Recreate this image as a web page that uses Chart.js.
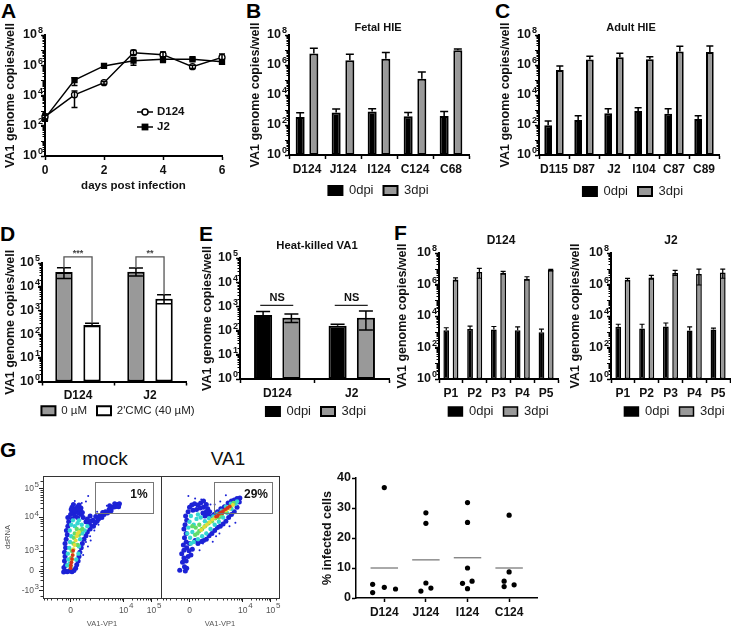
<!DOCTYPE html>
<html>
<head>
<meta charset="utf-8">
<script src="https://cdn.jsdelivr.net/npm/chart.js@4/dist/chart.umd.min.js"></script>
<style>
  html, body { margin: 0; padding: 0; background: #fff; overflow: hidden; }
  body { width: 731px; height: 632px; position: relative; font-family: 'Liberation Sans', Arial, sans-serif; }
  canvas { position: absolute; }
  .letter { position: absolute; font-weight: bold; font-size: 21px; line-height: 21px; color: #000; }
  .big { position: absolute; font-size: 19px; line-height: 22px; color: #111; transform: translateX(-50%); }
</style>
</head>
<body>
<div class="letter" style="left:1px;top:0px">A</div>
<div class="letter" style="left:246px;top:0px">B</div>
<div class="letter" style="left:495px;top:0px">C</div>
<div class="letter" style="left:0px;top:223px">D</div>
<div class="letter" style="left:199px;top:223px">E</div>
<div class="letter" style="left:394px;top:222px">F</div>
<div class="letter" style="left:0px;top:439px">G</div>
<div class="big" style="left:105px;top:448px">mock</div>
<div class="big" style="left:228px;top:448px">VA1</div>
<script>
'use strict';

/* ── shared axis labels ── */
const yTitle = 'VA1 genome copies/well';
const ticks8 = [1, 1e2, 1e4, 1e6, 1e8];
const ticks8Exps = ['0', '2', '4', '6', '8'];
const ticks5 = [1, 1e1, 1e2, 1e3, 1e4, 1e5];
const ticks5Exps = ['0', '1', '2', '3', '4', '5'];
const dpiLabels = ['0dpi', '3dpi'];

/* ── A ── */
const aDays = [0, 1, 2, 3, 4, 5, 6];
const aD124 = [400, 1.1e4, 7e4, 6.8e6, 5e6, 8e5, 3.3e6];
const aD124Hi = [600, 2e4, 8.5e4, 1e7, 7.5e6, 1e6, 5.5e6];
const aD124Lo = [280, 1.6e3, 5.5e4, 5e6, 3.5e6, 6e5, 1.6e6];
const aJ2 = [320, 1.05e5, 9e5, 2e6, 2.5e6, 2.5e6, 1.7e6];
const aJ2Hi = [480, 1.5e5, 1.1e6, 3.2e6, 3.6e6, 3e6, 2.4e6];
const aJ2Lo = [200, 4.5e4, 7e5, 1e6, 1.5e6, 2e6, 1.2e6];

/* ── B ── */
const bCats = ['D124', 'J124', 'I124', 'C124', 'C68'];
const b0 = [340, 690, 780, 380, 400];
const b0Hi = [660, 1150, 1200, 690, 780];
const b3 = [5.8e6, 2.1e6, 2.6e6, 1.2e5, 9.5e6];
const b3Hi = [1.3e7, 5.2e6, 6.8e6, 3.4e5, 1.17e7];

/* ── C ── */
const cCats = ['D115', 'D87', 'J2', 'I104', 'C87', 'C89'];
const c0 = [95, 215, 600, 850, 560, 250];
const c0Hi = [185, 420, 1200, 1400, 1200, 420];
const c3 = [4.6e5, 2.3e6, 3.3e6, 2.45e6, 7.8e6, 7.4e6];
const c3Hi = [8.5e5, 3.9e6, 6e6, 3.6e6, 1.8e7, 1.85e7];

/* ── D ── */
const dCats = ['D124', 'J2'];
const d0um = [4.2e4, 4.3e4];
const d0umHi = [6.3e4, 6.2e4];
const d0umLo = [2.2e4, 2.8e4];
const dCmc = [245, 3100];
const dCmcHi = [290, 4600];
const dCmcLo = [210, 1900];
const dLabels = ['0 µM', "2'CMC (40 µM)"];
const dBracketTop = [1.8e5, 1.8e5];
const dStars = ['***', '**'];

/* ── E ── */
const eCats = ['D124', 'J2'];
const e0 = [440, 158];
const e0Hi = [620, 185];
const e3 = [340, 340];
const e3Hi = [480, 650];
const e3Lo = [215, 107];
const eNsLevel = [1100, 1100];

/* ── F ── */
const fCats = ['P1', 'P2', 'P3', 'P4', 'P5'];
const fD0 = [1250, 1500, 1380, 1250, 930];
const fD0Hi = [1800, 2250, 2150, 2050, 1450];
const fD3 = [2.1e6, 6.2e6, 5.5e6, 2.35e6, 8.2e6];
const fD3Hi = [2.6e6, 1.05e7, 6.8e6, 3.1e6, 9e6];
const fD3Lo = [1.7e6, 2.5e6, 4.5e6, 1.9e6, 7.4e6];
const fJ0 = [2050, 1600, 2150, 1200, 1380];
const fJ0Hi = [3000, 3000, 3600, 2050, 1700];
const fJ3 = [2e6, 2.8e6, 5.3e6, 4.6e6, 5.8e6];
const fJ3Hi = [2.45e6, 3.8e6, 7.8e6, 9.4e6, 9.4e6];
const fJ3Lo = [1.7e6, 2.2e6, 3.8e6, 9.3e5, 2.5e6];

/* ── G flow plots ── */
const flowXTicks = [0, 1.9, 2.9];
const flowXLabels = ['0', '10', '10'];
const flowXExps = ['', '4', '5'];
const flowYTicks = [-0.66, 0, 0.69, 1.86, 2.86];
const flowYLabels = ['-10', '0', '10', '10', '10'];
const flowYExps = ['3', '', '3', '4', '5'];
const flowXMinor = [-.95, -.85, -.7, -.5, -.3, -.18, -.08, .08, .18, .3, .5, .7, 1.0, 1.2, 1.35, 1.5, 1.6, 1.7, 1.78, 1.85, 2.2, 2.38, 2.5, 2.6, 2.7, 2.78, 2.85, 3.1];
const flowYMinor = [-.85, -.5, -.3, -.18, -.08, .08, .18, .3, .5, .9, 1.2, 1.4, 1.55, 1.66, 1.74, 1.8, 2.16, 2.34, 2.46, 2.56, 2.64, 2.74, 2.8, 3.1];
const flowGateLabels = ['1%', '29%'];
const flowXName = 'VA1-VP1';
const flowYName = 'dsRNA';

const mockBlue = [[-.25,-.03],[-.2,0],[-.12,-.02],[-.05,0],[.05,-.02],[.12,.02],[-.24,.12],[-.18,.2],[.18,.1],[.22,.22],
  [-.22,.35],[-.2,.5],[-.22,.65],[.27,.35],[.3,.5],[.33,.65],[-.18,.8],[-.2,.95],[.38,.8],[.42,.95],
  [-.16,1.1],[-.12,1.25],[-.15,1.4],[-.1,1.55],[-.07,1.7],[-.1,1.85],[0,1.95],[.48,1.1],[.55,1.22],[.6,1.35],[.7,1.45],[.68,1.6],[.82,1.55],[.8,1.75],[.95,1.72],[.9,1.88],
  [.05,2.05],[.12,2],[.2,2.05],[.3,2],[.38,1.95],[.45,1.85],[.05,2.2],[.1,2.3],[.18,2.15],[.25,2.22],[.3,2.28],[.37,2.18],[.15,1.9],[.25,1.85],[.05,1.8],[.02,2.12],[.14,2.1],[.27,2.12],[.35,2.08],[.42,2.02],[.55,1.7],[.62,1.68],[.72,1.72],[.88,1.66],
  [1,1.8],[1.05,1.92],[1.12,1.85],[1.2,1.95],[1.25,2.05],[1.15,2.02],[1.32,2],[1.38,2.12],[1.45,2.08],[1.52,2.2],[1.6,2.22],[1.68,2.3],[1.75,2.32],[1.58,2.32],[1.4,2.25],[1.72,2.22],[.7,1.9],[.6,1.8]];
const mockBlueSparse = [[.63,2.59],[.55,2.4],[.72,1.05],[.62,.85],[.55,1],[.7,1.2],[.45,.55],[.85,1.4],[1.0,1.6],[.95,2.05],[.15,2.42],[.4,2.35],[1.3,2.25]];
const mockCyan = [[-.12,.2],[-.08,.4],[-.1,.6],[-.05,.8],[-.02,1],[.02,1.2],[-.03,1.4],[.02,1.6],[.08,1.75],[.28,.6],[.3,.85],[.34,1.1],[.42,1.3],[.5,1.4],[.6,1.55],[.15,1.55],[.25,1.65],[.3,1.75],[.4,1.6],[-.04,.25],[.2,.4]];
const mockGreen = [[0,.15],[.02,.45],[.04,.7],[.1,.95],[.12,1.15],[.15,1.3],[.25,.9],[.3,1.25],[.35,1.4],[.22,1.45],[.42,1.45]];
const mockYellow = [[.08,.55],[.1,.75],[.14,.9],[.18,1.05],[.22,1.2],[.25,1.3],[.3,1.35],[.05,.4]];
const mockRed = [[0,.1],[.01,.2],[.03,.3],[.05,.42],[.07,.55],[.09,.7]];

const va1Blue = [[-.35,.03],[-.15,0],[-.1,.1],[-.18,.15],[-.25,.3],[-.2,.45],[-.12,.35],[-.05,.5],[-.28,.6],[-.2,.72],[-.1,.8],[-.02,.7],[.05,.55],[.1,.75],[-.22,.9],[-.12,1],[0,.95],
  [-.18,1.15],[-.12,1.3],[-.2,1.45],[-.16,1.6],[-.1,1.75],[-.14,1.9],[-.05,2.05],[0,2.2],[.08,2.28],[.18,2.32],[.3,2.28],[.4,2.35],[.5,2.42],[.12,2.1],[.25,2.12],[.38,2.18],[.5,2.2],[.6,2.3],[.65,2.15],[.6,2.05],[.48,2],[.55,1.9],[.65,1.95],[.72,2.05],
  [.2,1.05],[.3,.95],[.42,1.02],[.5,1.05],[.6,1.1],[.7,1.22],[.8,1.3],[.9,1.4],[1,1.5],[1.1,1.55],[1.2,1.62],[1.3,1.72],[1.4,1.85],[1.5,1.95],[1.6,2.05],[1.7,2.2],[1.78,2.38],[1.8,2.52],[1.7,2.5],[1.6,2.45],[1.5,2.42],[1.38,2.35],[1.25,2.22],[1.12,2.15],[1,2.05],[.88,1.95],[.78,1.88]];
const va1BlueSparse = [[-.04,2.59],[.42,2.47],[1.3,2.62],[1.64,1.67],[.83,1.01],[.48,.95],[.36,.72],[.6,1.32],[1.07,1.3],[1.43,1.55],[.2,2.5],[.9,2.3],[1.1,2.4],[.75,2.3],[.95,1.2]];
const va1Cyan = [[-.08,1.3],[-.04,1.5],[0,1.7],[.05,1.9],[.02,1.15],[.1,1.35],[.15,1.6],[.25,1.8],[.3,1.95],[.4,1.85],[.05,.95],[.15,1],[.3,1.1],[.45,1.2],[.6,1.3],[.75,1.45],[.9,1.6],[1.05,1.7],[1.2,1.85],[1.35,2],[1.5,2.15],[1.65,2.32],[1.7,2.4],[.55,1.72],[.7,1.82],[.85,1.88],[1,1.98],[1.15,2.08],[1.3,2.22],[1.48,2.32]];
const va1Green = [[.2,1.25],[.28,1.3],[.35,1.38],[.45,1.45],[.55,1.55],[.68,1.65],[.8,1.72],[.92,1.82],[1.05,1.85],[.22,1.5],[.1,1.55],[.35,1.6],[1.15,1.95],[1.3,2.05],[1.45,2.2],[1.58,2.35]];
const va1Yellow = [[.42,1.42],[.52,1.52],[.62,1.6],[.72,1.68],[.82,1.78],[.92,1.85],[1.02,1.92],[1.55,2.28],[1.42,2.16],[1.3,2.1]];
const va1Red = [[.95,1.88],[1.05,1.97],[1.12,2.02],[1.2,2.07],[1.28,2.13],[1.36,2.18],[1.44,2.23],[1,1.9],[1.18,2]];

/* ── G dot plot ── */
const gCats = ['D124', 'J124', 'I124', 'C124'];
const gTitle = '% infected cells';
const gPoints = [[0,36.8],[-.28,4.55],[0,3.55],[.27,3],[-.28,1.8],
  [1,28.4],[1,24.9],[1,5],[1.12,3.3],[.88,2.3],
  [2,31.8],[2,25.2],[2,10],[2.11,5.6],[1.88,4.9],[2,3.1],
  [3,27.6],[3,8.7],[2.88,5.6],[3.12,4.4],[2.88,3.8]];
const gMeans = [10, 12.7, 13.4, 10];

/* ══════════════ PLUGINS ══════════════ */
Chart.defaults.font.family = "'Liberation Sans', Arial, sans-serif";
Chart.defaults.color = '#111';

const errorBars = {
  id: 'errorBars',
  afterDatasetsDraw(chart) {
    const { ctx } = chart, y = chart.scales.y;
    chart.data.datasets.forEach((ds, d) => {
      if (!ds.errHi) return;
      const els = chart.getDatasetMeta(d).data, cap = ds.capHalf || 4;
      ctx.save();
      ctx.strokeStyle = '#000';
      ctx.lineWidth = ds.errWidth || 1.5;
      els.forEach((el, i) => {
        const top = y.getPixelForValue(ds.errHi[i]);
        const lo = ds.errLo ? ds.errLo[i] : null;
        const bot = lo ? y.getPixelForValue(lo) : el.y;
        ctx.beginPath();
        ctx.moveTo(el.x, bot); ctx.lineTo(el.x, top);
        ctx.moveTo(el.x - cap, top); ctx.lineTo(el.x + cap, top);
        if (lo) { ctx.moveTo(el.x - cap, bot); ctx.lineTo(el.x + cap, bot); }
        ctx.stroke();
      });
      ctx.restore();
    });
  }
};

// short unlabelled ticks, log decades or an explicit list
const minorTicks = {
  id: 'minorTicks',
  afterDraw(chart, args, opts) {
    const { ctx } = chart, y = chart.scales.y, x = chart.scales.x;
    ctx.save();
    ctx.strokeStyle = opts.color || '#000';
    ctx.lineWidth = 1;
    if (y && y.type === 'logarithmic') {
      for (let p = 0; p < Math.log10(y.max) - 1e-6; p++) {
        for (let m = 1; m < 10; m++) {
          const py = Math.round(y.getPixelForValue(m * 10 ** p)) + 0.5;
          ctx.beginPath();
          ctx.moveTo(chart.chartArea.left, py);
          ctx.lineTo(chart.chartArea.left - (m === 1 ? 4 : 2.5), py);
          ctx.stroke();
        }
      }
    }
    (opts.xList || []).forEach(v => {
      const px = Math.round(x.getPixelForValue(v)) + 0.5;
      ctx.beginPath();
      ctx.moveTo(px, chart.chartArea.bottom);
      ctx.lineTo(px, chart.chartArea.bottom + 2.5);
      ctx.stroke();
    });
    (opts.yList || []).forEach(v => {
      const py = Math.round(y.getPixelForValue(v)) + 0.5;
      ctx.beginPath();
      ctx.moveTo(chart.chartArea.left, py);
      ctx.lineTo(chart.chartArea.left - 2.5, py);
      ctx.stroke();
    });
    ctx.restore();
  }
};

// exponents of the "10" tick labels, raised beside the label
const tickExps = {
  id: 'tickExps',
  afterDraw(chart) {
    const { ctx } = chart;
    Object.values(chart.scales).forEach(s => {
      if (!s.expList) return;
      const st = s.expStyle;
      ctx.save();
      ctx.font = st.font;
      ctx.fillStyle = st.color;
      ctx.textAlign = 'left';
      ctx.textBaseline = 'middle';
      s.expList.forEach((e, i) => {
        if (!e) return;
        const p = s.getPixelForValue(s.expValues[i]);
        if (s.isHorizontal()) ctx.fillText(e, p + st.dx, s.top + st.dy);
        else ctx.fillText(e, s.right + st.dx, p + st.dy);
      });
      ctx.restore();
    });
  }
};

// free text and strokes; hook gets page coordinates translated to the canvas
const notes = {
  id: 'notes',
  afterDraw(chart, args, opts) {
    if (!opts.draw) return;
    const { ctx } = chart;
    ctx.save();
    ctx.translate(-parseFloat(chart.canvas.style.left), -parseFloat(chart.canvas.style.top));
    opts.draw(ctx, chart);
    ctx.restore();
  }
};

const legendShift = {
  id: 'legendShift',
  afterLayout(chart, args, opts) {
    if (!chart.legend || opts.cx === undefined) return;
    const l = chart.legend;
    const dx = opts.cx - parseFloat(chart.canvas.style.left) - (l.left + l.right) / 2;
    const dy = opts.cy - parseFloat(chart.canvas.style.top) - (l.top + LEGEND_H / 2);
    l.left += dx; l.right += dx;
    l.top += dy; l.bottom += dy;
  }
};

Chart.register(errorBars, minorTicks, tickExps, notes, legendShift);

/* ══════════════ HELPERS ══════════════ */
const LEGEND_H = 32;
const X_LABEL_H = 30;

function text(ctx, str, x, y, font, color, align) {
  ctx.font = font;
  ctx.fillStyle = color || '#111';
  ctx.textAlign = align || 'center';
  ctx.textBaseline = 'middle';
  ctx.fillText(str, x, y);
}

function panel(p) {
  const { area, titleX, legendCx, legendCy, xH } = p;
  const left = titleX - 7;
  const top = area.t - 32;
  const right = area.r + 14;
  const xHeight = legendCy ? X_LABEL_H : xH;
  const bottom = area.b + xHeight + (legendCy ? LEGEND_H : 0);
  const c = document.createElement('canvas');
  c.width = right - left; c.height = bottom - top;
  c.style.left = left + 'px'; c.style.top = top + 'px';
  c.style.width = c.width + 'px'; c.style.height = c.height + 'px';
  document.body.appendChild(c);

  const cfg = p.config;
  cfg.options = cfg.options || {};
  Object.assign(cfg.options, {
    responsive: false, animation: false, devicePixelRatio: 1,
    events: [],
    layout: { autoPadding: false, padding: { top: area.t - top, right: right - area.r, left: 0, bottom: 0 } }
  });
  cfg.options.scales.x.afterFit = s => { s.height = xHeight; };
  cfg.options.scales.y.afterFit = s => { s.width = area.l - left; };
  cfg.options.plugins = Object.assign({
    legendShift: { cx: legendCx, cy: legendCy },
    tooltip: { enabled: false }
  }, cfg.options.plugins || {});
  return new Chart(c, cfg);
}

function logY(list, exps) {
  return {
    type: 'logarithmic', min: list[0], max: list[list.length - 1],
    afterBuildTicks: s => {
      s.ticks = list.map(v => ({ value: v }));
      s.expValues = list; s.expList = exps;
      s.expStyle = { font: 'bold 9px "Liberation Sans"', color: '#111', dx: -7, dy: -4 };
    },
    title: { display: true, text: yTitle, font: { size: 12.5, weight: 'bold' }, color: '#111', padding: 0 },
    ticks: { callback: () => '10', font: { size: 12.5, weight: 'bold' }, color: '#111', padding: 4, autoSkip: false, maxRotation: 0 },
    grid: { drawOnChartArea: false, tickLength: 4, tickColor: '#000', tickWidth: 1.5 },
    border: { color: '#000', width: 2 }
  };
}

function catX() {
  return {
    type: 'category',
    ticks: { font: { size: 12, weight: 'bold' }, color: '#111', padding: 3, autoSkip: false, maxRotation: 0 },
    grid: { drawOnChartArea: false, tickLength: 4, tickColor: '#000', tickWidth: 1.5 },
    border: { color: '#000', width: 2 }
  };
}

function barSet(label, values, hi, lo, fill, opt) {
  const o = opt;
  return {
    label, data: values, errHi: hi, errLo: lo,
    backgroundColor: fill, borderColor: '#000', borderWidth: o.bw, borderSkipped: false,
    barPercentage: o.bar, categoryPercentage: o.cat, capHalf: o.cap, errWidth: o.ew
  };
}

function legendOpt(size) {
  return {
    display: true, position: 'bottom',
    labels: { boxWidth: 14, boxHeight: 9, padding: 10, font: { size: size || 13 }, color: '#222' }
  };
}

/* ══════════════ A ══════════════ */
panel({
  area: { l: 45, t: 35, r: 222, b: 156 }, titleX: 10, xH: 41,
  config: {
    type: 'line',
    data: {
      labels: aDays,
      datasets: [
        { label: 'D124', data: aD124, errHi: aD124Hi, errLo: aD124Lo, capHalf: 3, borderColor: '#000', borderWidth: 1.5,
          pointStyle: 'circle', pointRadius: 3, pointBackgroundColor: '#fff', pointBorderColor: '#000', pointBorderWidth: 1.3, tension: 0, clip: false },
        { label: 'J2', data: aJ2, errHi: aJ2Hi, errLo: aJ2Lo, capHalf: 3, borderColor: '#000', borderWidth: 1.5,
          pointStyle: 'rect', pointRadius: 3.4, pointBackgroundColor: '#000', pointBorderColor: '#000', tension: 0, clip: false }
      ]
    },
    options: {
      scales: {
        x: {
          type: 'linear', min: 0, max: 6,
          afterBuildTicks: s => { s.ticks = [0, 2, 4, 6].map(v => ({ value: v })); },
          title: { display: true, text: 'days post infection', font: { size: 11.5, weight: 'bold' }, color: '#111', padding: { top: 6 } },
          ticks: { font: { size: 12, weight: 'bold' }, color: '#111', padding: 3, maxRotation: 0 },
          grid: { drawOnChartArea: false, tickLength: 4, tickColor: '#000', tickWidth: 1.5 },
          border: { color: '#000', width: 2 }
        },
        y: logY(ticks8, ticks8Exps)
      },
      plugins: {
        legend: { display: false },
        notes: { draw(ctx) {
          ctx.strokeStyle = '#000'; ctx.lineWidth = 1.5;
          [112, 127].forEach(py => { ctx.beginPath(); ctx.moveTo(137, py); ctx.lineTo(153, py); ctx.stroke(); });
          ctx.beginPath(); ctx.arc(145, 112, 3, 0, Math.PI * 2); ctx.fillStyle = '#fff'; ctx.fill(); ctx.stroke();
          ctx.fillStyle = '#000'; ctx.fillRect(141.6, 123.6, 6.8, 6.8);
          text(ctx, 'D124', 157, 112, 'bold 11.5px "Liberation Sans"', '#111', 'left');
          text(ctx, 'J2', 157, 127, 'bold 11.5px "Liberation Sans"', '#111', 'left');
        } }
      }
    }
  }
});

/* ══════════════ B / C ══════════════ */
const bOpt = { bw: 2, bar: 0.66, cat: 0.76, cap: 4, ew: 1.5 };
panel({
  area: { l: 289, t: 35, r: 469, b: 156 }, titleX: 255, legendCx: 378.5, legendCy: 190,
  config: {
    type: 'bar',
    data: { labels: bCats, datasets: [
      barSet(dpiLabels[0], b0, b0Hi, null, '#000', bOpt),
      barSet(dpiLabels[1], b3, b3Hi, null, '#999', bOpt)
    ] },
    options: {
      scales: { x: catX(), y: logY(ticks8, ticks8Exps) },
      plugins: {
        legend: legendOpt(),
        notes: { draw(ctx) { text(ctx, 'Fetal HIE', 378, 28, 'bold 11px "Liberation Sans"'); } }
      }
    }
  }
});

const cOpt = { bw: 2, bar: 0.66, cat: 0.78, cap: 3.5, ew: 1.5 };
panel({
  area: { l: 539, t: 35, r: 719, b: 156 }, titleX: 505, legendCx: 633, legendCy: 191,
  config: {
    type: 'bar',
    data: { labels: cCats, datasets: [
      barSet(dpiLabels[0], c0, c0Hi, null, '#000', cOpt),
      barSet(dpiLabels[1], c3, c3Hi, null, '#999', cOpt)
    ] },
    options: {
      scales: { x: catX(), y: logY(ticks8, ticks8Exps) },
      plugins: {
        legend: legendOpt(),
        notes: { draw(ctx) { text(ctx, 'Adult HIE', 631, 28, 'bold 11px "Liberation Sans"'); } }
      }
    }
  }
});

/* ══════════════ D ══════════════ */
const dOpt = { bw: 2, bar: 0.62, cat: 0.78, cap: 7, ew: 1.5 };
panel({
  area: { l: 42, t: 263, r: 186, b: 381 }, titleX: 10, legendCx: 118, legendCy: 411,
  config: {
    type: 'bar',
    data: { labels: dCats, datasets: [
      barSet(dLabels[0], d0um, d0umHi, d0umLo, '#999', dOpt),
      barSet(dLabels[1], dCmc, dCmcHi, dCmcLo, '#fff', dOpt)
    ] },
    options: {
      scales: { x: catX(), y: logY(ticks5, ticks5Exps) },
      plugins: {
        legend: legendOpt(11.5),
        notes: { draw(ctx, chart) {
          const y = chart.scales.y, ox = parseFloat(chart.canvas.style.left), oy = parseFloat(chart.canvas.style.top);
          const m0 = chart.getDatasetMeta(0).data, m1 = chart.getDatasetMeta(1).data;
          ctx.strokeStyle = '#555'; ctx.lineWidth = 1.3;
          dCats.forEach((c, i) => {
            const top = y.getPixelForValue(dBracketTop[i]) + oy;
            ctx.beginPath();
            ctx.moveTo(m0[i].x + ox, y.getPixelForValue(d0umHi[i]) + oy);
            ctx.lineTo(m0[i].x + ox, top);
            ctx.lineTo(m1[i].x + ox, top);
            ctx.lineTo(m1[i].x + ox, y.getPixelForValue(dCmcHi[i]) + oy);
            ctx.stroke();
            text(ctx, dStars[i], (m0[i].x + m1[i].x) / 2 + ox, top - 3, 'bold 9px "Liberation Sans"', '#444');
          });
        } }
      }
    }
  }
});

/* ══════════════ E ══════════════ */
const eOpt = { bw: 2, bar: 0.64, cat: 0.76, cap: 7, ew: 1.5 };
panel({
  area: { l: 240, t: 258, r: 389, b: 380 }, titleX: 207, legendCx: 316, legendCy: 411,
  config: {
    type: 'bar',
    data: { labels: eCats, datasets: [
      barSet(dpiLabels[0], e0, e0Hi, null, '#000', eOpt),
      barSet(dpiLabels[1], e3, e3Hi, e3Lo, '#999', eOpt)
    ] },
    options: {
      scales: { x: catX(), y: logY(ticks5, ticks5Exps) },
      plugins: {
        legend: legendOpt(),
        notes: { draw(ctx, chart) {
          const y = chart.scales.y, x = chart.scales.x;
          text(ctx, 'Heat-killed VA1', 317, 246, 'bold 11.3px "Liberation Sans"');
          ctx.strokeStyle = '#222'; ctx.lineWidth = 1.2;
          eCats.forEach((c, i) => {
            const px = x.getPixelForValue(i) + parseFloat(chart.canvas.style.left);
            const py = y.getPixelForValue(eNsLevel[i]) + parseFloat(chart.canvas.style.top);
            ctx.beginPath(); ctx.moveTo(px - 17, py); ctx.lineTo(px + 16, py); ctx.stroke();
            text(ctx, 'NS', px, py - 7, 'bold 11px "Liberation Sans"');
          });
        } }
      }
    }
  }
});

/* ══════════════ F ══════════════ */
const fOpt = { bw: 1.5, bar: 0.62, cat: 0.78, cap: 2.5, ew: 1.2 };
function passagePanel(name, area, titleX, legendCx, titleCx, s0, s0Hi, s3, s3Hi, s3Lo) {
  panel({
    area, titleX, legendCx, legendCy: 411,
    config: {
      type: 'bar',
      data: { labels: fCats, datasets: [
        barSet(dpiLabels[0], s0, s0Hi, null, '#000', fOpt),
        barSet(dpiLabels[1], s3, s3Hi, s3Lo, '#999', fOpt)
      ] },
      options: {
        scales: { x: catX(), y: logY(ticks8, ticks8Exps) },
        plugins: {
          legend: legendOpt(),
          notes: { draw(ctx) { text(ctx, name, titleCx, 241, 'bold 12px "Liberation Sans"'); } }
        }
      }
    }
  });
}
passagePanel('D124', { l: 439, t: 253, r: 558, b: 380 }, 402, 498.5, 501, fD0, fD0Hi, fD3, fD3Hi, fD3Lo);
passagePanel('J2', { l: 611, t: 253, r: 730, b: 380 }, 575, 674.5, 671, fJ0, fJ0Hi, fJ3, fJ3Hi, fJ3Lo);

/* ══════════════ G flow ══════════════ */
const FLOW_COLORS = { blue: '#1c22d6', cyan: '#35d6d2', green: '#62dc6a', yellow: '#e4dc3a', red: '#d6341c' };
function pts(list) { return list.map(p => ({ x: p[0], y: p[1] })); }
function cloud(list, color, r) {
  return { data: pts(list), backgroundColor: color, pointRadius: r, borderWidth: 0, pointBorderWidth: 0 };
}
function flowPanel(area, min, max, showY, gate, gateLabel, labelX, sets) {
  panel({
    area, titleX: 10, xH: 34,
    config: {
      type: 'scatter',
      data: { datasets: [
        cloud(sets.red, FLOW_COLORS.red, 1.9),
        cloud(sets.yellow, FLOW_COLORS.yellow, 2),
        cloud(sets.green, FLOW_COLORS.green, 2.2),
        cloud(sets.cyan, FLOW_COLORS.cyan, 2.2),
        cloud(sets.blue, FLOW_COLORS.blue, 2.5),
        cloud(sets.sparse, FLOW_COLORS.blue, 1)
      ] },
      options: {
        scales: {
          x: {
            type: 'linear', min, max,
            afterBuildTicks: s => {
              s.ticks = flowXTicks.map(v => ({ value: v }));
              s.expValues = flowXTicks; s.expList = flowXExps;
              s.expStyle = { font: '8px "Liberation Sans"', color: '#555', dx: 5.5, dy: 8 };
            },
            title: { display: true, text: flowXName, font: { size: 7.5 }, color: '#555', padding: { top: 2 } },
            ticks: { callback: (v, i) => flowXLabels[i], font: { size: 8.5 }, color: '#555', padding: 4, maxRotation: 0, autoSkip: false },
            grid: { drawOnChartArea: false, tickLength: 4, tickColor: '#222' },
            border: { color: '#333', width: 1 }
          },
          y: {
            type: 'linear', min: -0.93, max: 3.28,
            afterBuildTicks: s => {
              s.ticks = flowYTicks.map(v => ({ value: v }));
              if (showY) {
                s.expValues = flowYTicks; s.expList = flowYExps;
                s.expStyle = { font: '8px "Liberation Sans"', color: '#555', dx: -8.5, dy: -3 };
              }
            },
            title: { display: showY, text: flowYName, font: { size: 7.5 }, color: '#555', padding: 0 },
            ticks: { display: showY, callback: (v, i) => flowYLabels[i], font: { size: 8.5 }, color: '#555', padding: 5, autoSkip: false },
            grid: { drawOnChartArea: false, drawTicks: showY, tickLength: 4, tickColor: '#222' },
            border: { color: '#333', width: 1 }
          }
        },
        plugins: {
          legend: { display: false },
          minorTicks: { xList: flowXMinor, yList: showY ? flowYMinor : [], color: '#333' },
          notes: { draw(ctx, chart) {
            const a = chart.chartArea, ox = parseFloat(chart.canvas.style.left), oy = parseFloat(chart.canvas.style.top);
            ctx.strokeStyle = '#333'; ctx.lineWidth = 1;
            ctx.strokeRect(a.left + ox + .5, a.top + oy + .5, a.width, a.height);
            ctx.strokeStyle = '#777';
            ctx.strokeRect(gate.x + .5, gate.y + .5, gate.w, gate.h);
            text(ctx, gateLabel, labelX, 495, 'bold 12px "Liberation Sans"');
          } }
        }
      }
    }
  });
}
flowPanel({ l: 43, t: 476, r: 161, b: 598 }, -0.99, 3.24, true, { x: 95, y: 482, w: 58, h: 31 }, flowGateLabels[0], 139, {
  red: mockRed, yellow: mockYellow, green: mockGreen, cyan: mockCyan, blue: mockBlue, sparse: mockBlueSparse
});
flowPanel({ l: 161, t: 476, r: 279, b: 598 }, -1.02, 3.2, false, { x: 214, y: 482, w: 58, h: 31 }, flowGateLabels[1], 256, {
  red: va1Red, yellow: va1Yellow, green: va1Green, cyan: va1Cyan, blue: va1Blue, sparse: va1BlueSparse
});

/* ══════════════ G dot plot ══════════════ */
panel({
  area: { l: 356, t: 478, r: 537, b: 598 }, titleX: 327, xH: 28,
  config: {
    type: 'scatter',
    data: { datasets: [
      { data: pts(gPoints), backgroundColor: '#000', pointRadius: 2.6, pointBorderWidth: 0 },
      ...gMeans.map((m, i) => ({
        data: [{ x: i - 0.33, y: m }, { x: i + 0.33, y: m }],
        showLine: true, borderColor: '#555', borderWidth: 1, pointRadius: 0
      }))
    ] },
    options: {
      scales: {
        x: {
          type: 'linear', min: -0.68, max: 3.67,
          afterBuildTicks: s => { s.ticks = gCats.map((c, i) => ({ value: i })); },
          ticks: { callback: (v, i) => gCats[i], font: { size: 12, weight: 'bold' }, color: '#111', padding: 3, maxRotation: 0, autoSkip: false },
          grid: { drawOnChartArea: false, tickLength: 4, tickColor: '#000', tickWidth: 1.5 },
          border: { color: '#000', width: 1.5 }
        },
        y: {
          type: 'linear', min: 0, max: 40,
          ticks: { stepSize: 10, font: { size: 12.5, weight: 'bold' }, color: '#111', padding: 1 },
          title: { display: true, text: gTitle, font: { size: 12.5, weight: 'bold' }, color: '#111', padding: 0 },
          grid: { drawOnChartArea: false, tickLength: 4, tickColor: '#000', tickWidth: 1.5 },
          border: { color: '#000', width: 1.5 }
        }
      },
      plugins: { legend: { display: false } }
    }
  }
});
</script>
</body>
</html>
